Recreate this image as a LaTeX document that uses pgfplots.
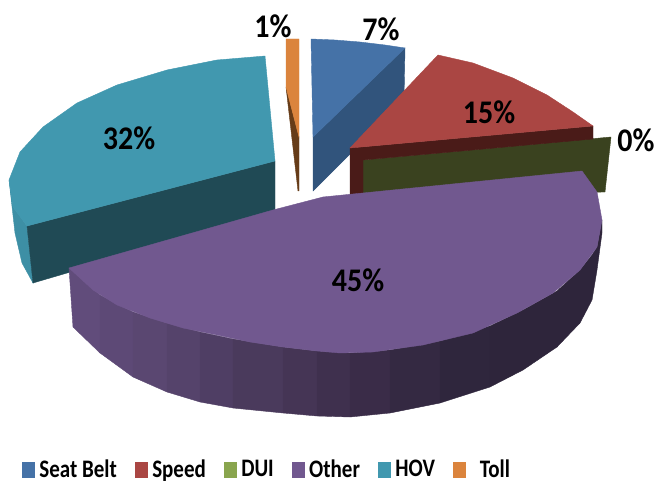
\documentclass[border=0pt]{standalone}
\usepackage{graphicx}
\usepackage{fontspec}
\setmainfont{Carlito}
\usepackage{pgfplots}
\pgfplotsset{compat=1.18}
\definecolor{cblue}{HTML}{4572A7}
\definecolor{cblued}{HTML}{31547C}
\definecolor{cred}{HTML}{AA4643}
\definecolor{credd}{HTML}{4A1B18}
\definecolor{cgreen}{HTML}{89A54E}
\definecolor{cgreend}{HTML}{3A421F}
\definecolor{cpurple}{HTML}{71588F}
\definecolor{cteal}{HTML}{4198AF}
\definecolor{cteald}{HTML}{204A55}
\definecolor{ctealm}{HTML}{3D8FA5}
\definecolor{corange}{HTML}{DB843D}
\definecolor{coranged}{HTML}{663C18}
\definecolor{rA}{RGB}{97,76,123}
\definecolor{rB}{RGB}{93,73,118}
\definecolor{rC}{RGB}{90,71,113}
\definecolor{rD}{RGB}{85,67,107}
\definecolor{rE}{RGB}{79,62,100}
\definecolor{rF}{RGB}{74,58,92}
\definecolor{rG}{RGB}{69,53,85}
\definecolor{rH}{RGB}{63,48,78}
\definecolor{rI}{RGB}{58,44,72}
\definecolor{rJ}{RGB}{52,41,66}
\definecolor{rK}{RGB}{47,38,61}
\definecolor{rL}{RGB}{46,37,59}
\pgfplotsset{poly/.style={fill=#1,draw=#1,line width=0.4pt,forget plot,mark=none}}
\newcommand{\lab}[1]{\fontsize{30}{30}\selectfont\bfseries\scalebox{1}[1.1]{#1}}
\newcommand{\leg}[1]{\scalebox{1}[1.2]{#1}}
\begin{document}
\begin{tikzpicture}
\useasboundingbox (0,0) rectangle (659pt,481pt);
\begin{axis}[
  at={(0,0)},anchor=south west,scale only axis,width=659pt,height=481pt,
  xmin=0,xmax=659,ymin=0,ymax=481,y dir=reverse,hide axis,clip=false,
  legend columns=6,
  legend style={at={(axis cs:22,479)},anchor=south west,draw=none,fill=none,inner sep=0pt,outer sep=0pt,
    font=\fontsize{21}{21}\selectfont\bfseries,
    nodes={inner sep=0pt,outer sep=0pt},
    /tikz/every even column/.style={column sep=18pt},
    /tikz/every odd column/.style={column sep=5pt}},
  legend cell align=left,
  legend image code/.code={\fill[#1] (0pt,-7.5pt) rectangle (12pt,7.5pt);},
]
\addlegendimage{cblue}\addlegendentry{\leg{Seat Belt}}
\addlegendimage{cred}\addlegendentry{\leg{Speed}}
\addlegendimage{cgreen}\addlegendentry{\leg{DUI}}
\addlegendimage{cpurple}\addlegendentry{\leg{Other}}
\addlegendimage{cteal}\addlegendentry{\leg{HOV}}
\addlegendimage{corange}\addlegendentry{\leg{\ \ Toll}}

% Toll
\addplot[poly=coranged] coordinates {(286,87)(299,137)(299,191)(298,191)} -- cycle;
\addplot[poly=corange] coordinates {(286,39)(299,39)(299,137)(286,87)} -- cycle;
% Seat Belt
\addplot[poly=cblued] coordinates {(405,48)(404,100)(313,191)(313,137)} -- cycle;
\addplot[poly=cblue] coordinates {(311,39)(335,40)(360,42)(385,45)(405,48)(313,137)} -- cycle;
% DUI
\addplot[poly=cgreend] coordinates {(363,160)(611,137)(605,192)(363,195)} -- cycle;
% Speed
\addplot[poly=credd] coordinates {(350,148)(593,126)(593,139)(363,160)(363,195)(350,195)} -- cycle;
\addplot[poly=cred] coordinates {(350,148)(438,55)(473,63)(513,78)(547,95)(573,112)(593,126)} -- cycle;
% HOV
\addplot[poly=ctealm] coordinates {(9,180)(13,207)(27,226)(33,283)(22,263)(15,233)} -- cycle;
\addplot[poly=cteald] coordinates {(275,161)(275,212)(33,283)(27,226)} -- cycle;
\addplot[poly=cteal] coordinates {(265,56)(217,60)(167,70)(117,85)(77,103)(43,127)(20,152)(9,180)(13,207)(27,226)(275,161)} -- cycle;
% Other: rim strips
\addplot[poly=rA] coordinates {(69,268)(100,295)(100,353)(73,327)} -- cycle;
\addplot[poly=rB] coordinates {(100,295)(133,312)(133,377)(100,353)} -- cycle;
\addplot[poly=rC] coordinates {(133,312)(167,323)(167,392)(133,377)} -- cycle;
\addplot[poly=rD] coordinates {(167,323)(200,332)(200,402)(167,392)} -- cycle;
\addplot[poly=rE] coordinates {(200,332)(233,339)(233,408)(200,402)} -- cycle;
\addplot[poly=rF] coordinates {(233,339)(283,347)(283,413)(233,408)} -- cycle;
\addplot[poly=rG] coordinates {(283,347)(317,351)(317,416)(283,413)} -- cycle;
\addplot[poly=rH] coordinates {(317,351)(350,353)(350,417)(317,416)} -- cycle;
\addplot[poly=rI] coordinates {(350,353)(390,350)(390,413)(350,417)} -- cycle;
\addplot[poly=rJ] coordinates {(390,350)(440,341)(440,403)(390,413)} -- cycle;
\addplot[poly=rK] coordinates {(440,341)(490,326)(490,387)(440,403)} -- cycle;
\addplot[poly=rL] coordinates {(490,326)(523,310)(523,370)(490,387)} -- cycle;
\addplot[poly=rL] coordinates {(523,310)(557,291)(557,347)(523,370)} -- cycle;
\addplot[poly=rL] coordinates {(557,291)(580,270)(592,255)(597,247)(602,220)(602,233)(597,270)(592,300)(580,323)(557,347)} -- cycle;
% Other: top
\addplot[poly=cpurple] coordinates {(69,268)(273,210)(323,197)(582,171)(597,192)(602,220)(597,247)(580,270)(553,293)(517,313)(473,333)(423,345)(373,352)(340,353)(317,351)(283,347)(250,342)(217,335)(183,328)(150,318)(117,305)(93,290)} -- cycle;

\node at (axis cs:381,29) {\lab{7\%}};
\node at (axis cs:489,112) {\lab{15\%}};
\node at (axis cs:636,140) {\lab{0\%}};
\node at (axis cs:129,138) {\lab{32\%}};
\node at (axis cs:358,280) {\lab{45\%}};
\node at (axis cs:273,26) {\lab{1\%}};
\end{axis}
\end{tikzpicture}
\end{document}
